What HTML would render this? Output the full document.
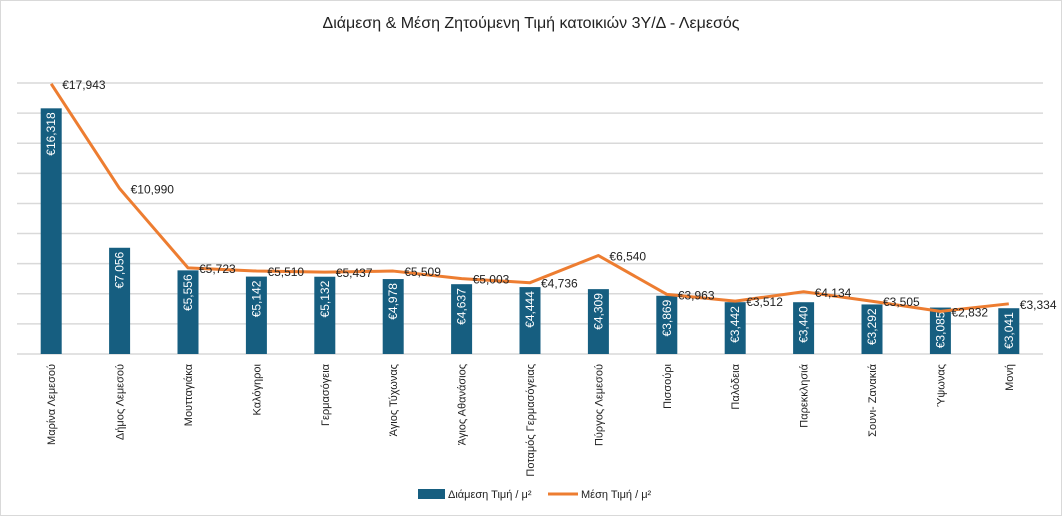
<!DOCTYPE html>
<html><head><meta charset="utf-8"><style>
html,body{margin:0;padding:0;background:#fff}
body{width:1062px;height:516px;overflow:hidden;font-family:"Liberation Sans",sans-serif}
</style></head><body>
<svg width="1062" height="516" xmlns="http://www.w3.org/2000/svg">
<rect x="0.5" y="0.5" width="1061" height="515" fill="#fff" stroke="#d9d9d9"/>
<text x="531" y="28" text-anchor="middle" font-size="16" fill="#222">Διάμεση &amp; Μέση Ζητούμενη Τιμή κατοικιών 3Υ/Δ - Λεμεσός</text>
<g id="grid"></g><g id="bars"></g><g id="line"></g><g id="xlabels"></g>
<g>
<rect x="418" y="489" width="27" height="10" fill="#165e80"/>
<text x="448" y="498" font-size="11" fill="#222">Διάμεση Τιμή / μ²</text>
<line x1="548" y1="494" x2="578" y2="494" stroke="#ed7d31" stroke-width="3"/>
<text x="581" y="498" font-size="11" fill="#222">Μέση Τιμή / μ²</text>
</g>
</svg>
<script>
const categories=["Μαρίνα Λεμεσού","Δήμος Λεμεσού","Μουτταγιάκα","Καλόγηροι","Γερμασόγεια","Άγιος Τύχωνας","Άγιος Αθανάσιος","Ποταμός Γερμασόγειας","Πύργος Λεμεσού","Πισσούρι","Παλόδεια","Παρεκκλησιά","Σουνι- Ζανακιά","Ύψωνας","Μονή"];
const medianValues=[16318,7056,5556,5142,5132,4978,4637,4444,4309,3869,3442,3440,3292,3085,3041];
const meanValues=[17943,10990,5723,5510,5437,5509,5003,4736,6540,3963,3512,4134,3505,2832,3334];
const yTicks=[0,2000,4000,6000,8000,10000,12000,14000,16000,18000];
const NS="http://www.w3.org/2000/svg";
const X0=17,X1=1043,Y0=354,YTOP=83,YMAX=18000;
const bw=(X1-X0)/categories.length;
const xc=i=>X0+bw*(i+0.5);
const y=v=>Y0-(v/YMAX)*(Y0-YTOP);
const fmt=v=>"€"+v.toLocaleString("en-US");
function mk(t,a,p){const e=document.createElementNS(NS,t);for(const k in a)e.setAttribute(k,a[k]);p.appendChild(e);return e;}
const grid=document.getElementById("grid");
yTicks.forEach(t=>{const l=mk("line",{x1:X0,x2:X1,y1:y(t),y2:y(t),stroke:"#d9d9d9","stroke-width":1.5},grid);

});
const bars=document.getElementById("bars");
medianValues.forEach((v,i)=>{
const r=mk("rect",{x:xc(i)-10.5,y:y(v),width:21,height:Y0-y(v),fill:"#165e80"},bars);


const tx=xc(i)+4,ty=y(v)+4;
const t=mk("text",{x:tx,y:ty,transform:`rotate(-90 ${tx} ${ty})`,"text-anchor":"end","font-size":12,fill:"#fff"},bars);
t.textContent=fmt(v);

});
const lg=document.getElementById("line");
const pl=mk("polyline",{points:meanValues.map((v,i)=>xc(i)+","+y(v)).join(" "),fill:"none",stroke:"#ed7d31","stroke-width":3,"stroke-linejoin":"round"},lg);


meanValues.forEach((v,i)=>{
const t=mk("text",{x:xc(i)+11,y:y(v)+5,"font-size":12,fill:"#222"},lg);
t.textContent=fmt(v);

});
const xl=document.getElementById("xlabels");
categories.forEach((c,i)=>{
const tx=xc(i)+4,ty=364;
const t=mk("text",{x:tx,y:ty,transform:`rotate(-90 ${tx} ${ty})`,"text-anchor":"end","font-size":11,fill:"#222"},xl);
t.textContent=c;

});
</script>
</body></html>
